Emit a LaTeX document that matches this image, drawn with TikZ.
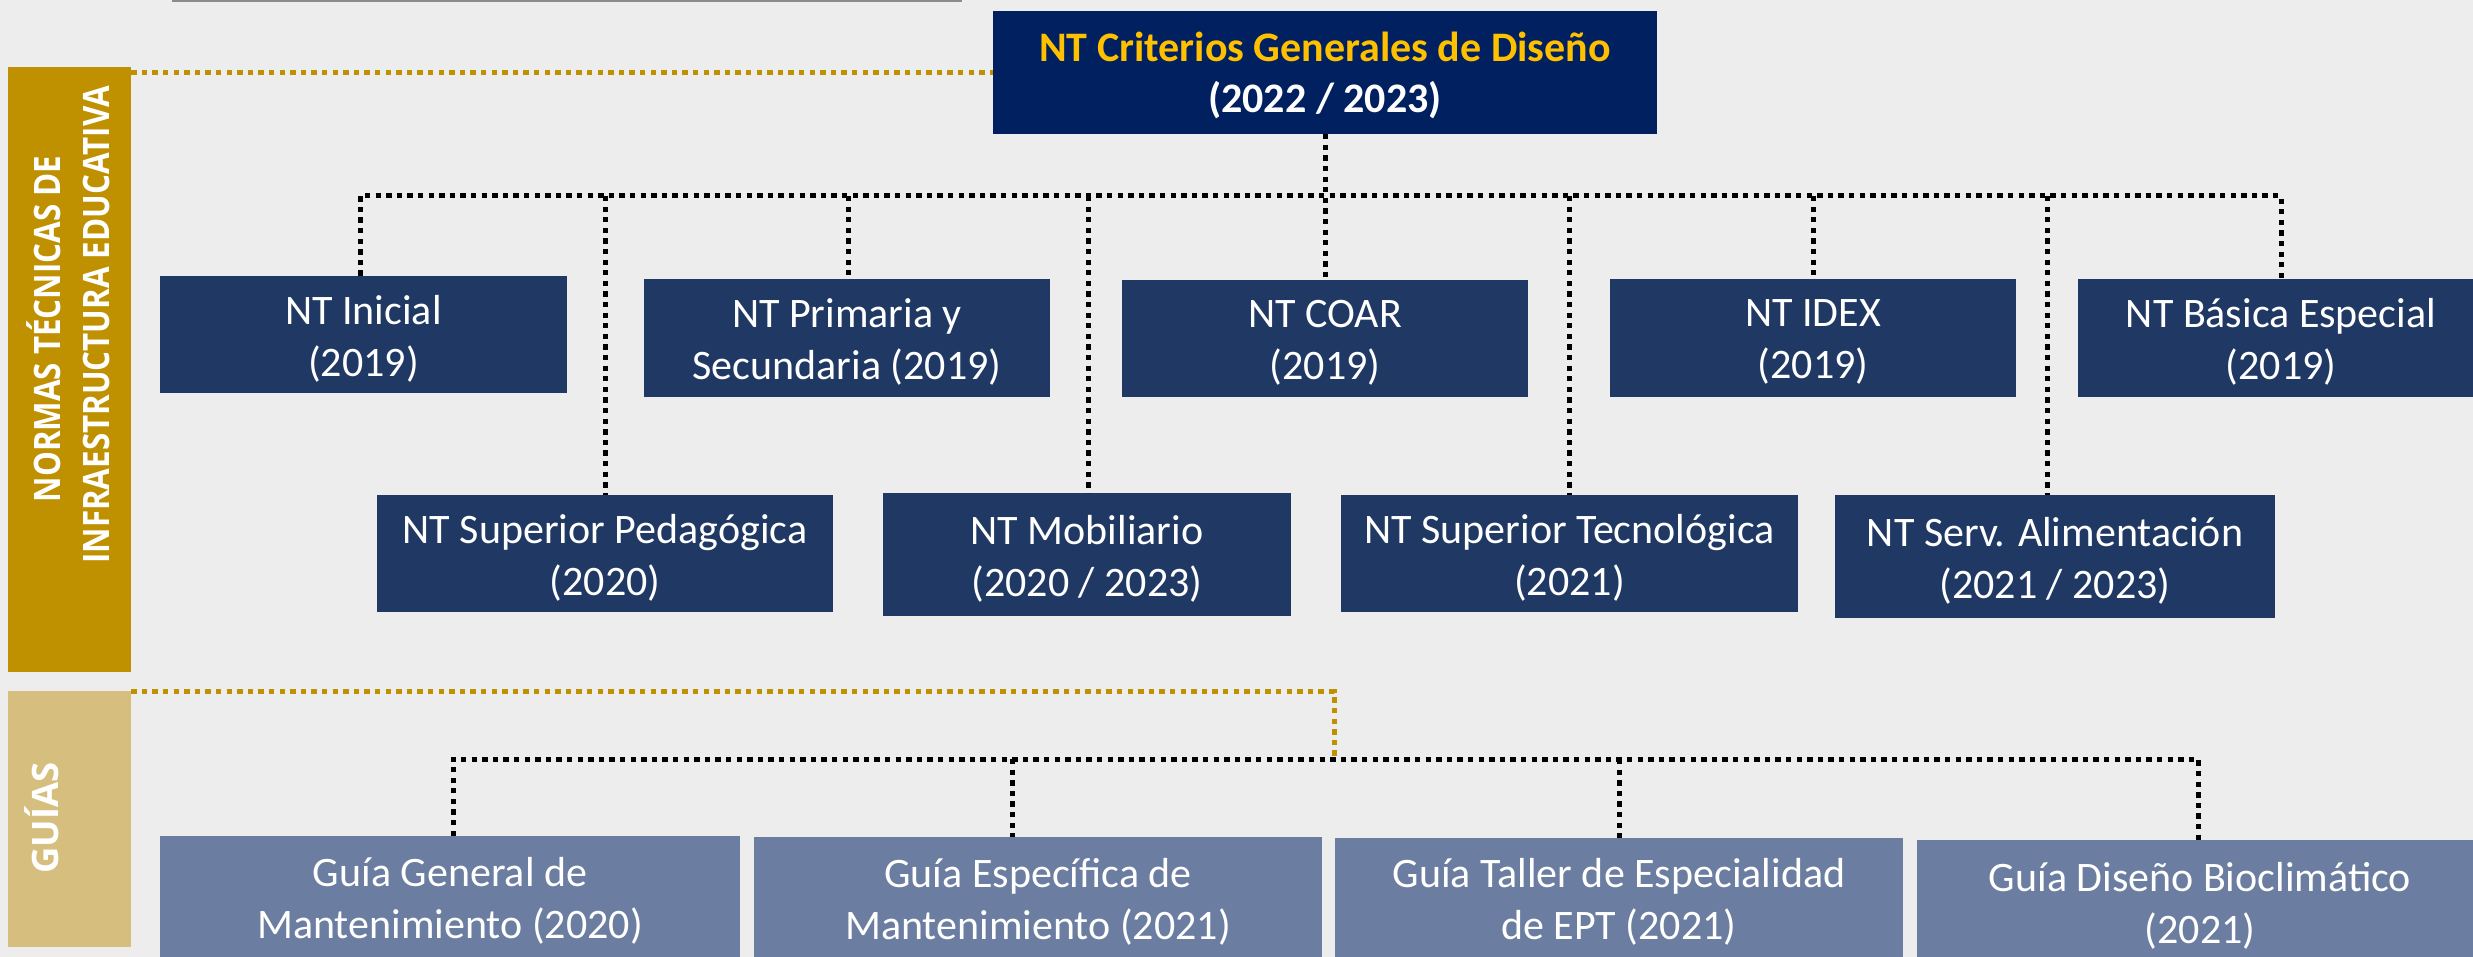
\documentclass[tikz,border=0pt]{standalone}
\usepackage{fontspec}
\setmainfont{Carlito}
\newfontfamily\osb{Open Sans}
\definecolor{bg}{HTML}{EDEDED}
\definecolor{gold}{HTML}{BF9000}
\definecolor{lightgold}{HTML}{D6BF7E}
\definecolor{navy}{HTML}{002060}
\definecolor{ntblue}{HTML}{203864}
\definecolor{guideblue}{HTML}{6B7DA0}
\definecolor{titlegold}{HTML}{FFC000}
\definecolor{topgray}{HTML}{8C8C8C}
\tikzset{
  boxshape/.style={inner sep=0pt},
  ntbox/.style={boxshape, fill=ntblue},
  guidebox/.style={boxshape, fill=guideblue},
  titlebox/.style={boxshape, fill=navy},
  boxtext/.style={inner sep=0pt, align=center, text=white, font=\fontsize{42}{52}\selectfont},
  titletext/.style={boxtext, font=\fontsize{42}{51}\selectfont\bfseries},
  dots/.style={line width=5pt, dash pattern=on 5.3pt off 5.3pt, draw=black},
  golddots/.style={line width=5pt, dash pattern=on 5.3pt off 5.3pt, draw=gold},
  sidetext/.style={rotate=90, anchor=base, inner sep=0pt, text=white, font=\fontsize{36.4}{40}\selectfont\osb\bfseries}
}
% #1 style, #2 name, #3 cx, #4 cy, #5 width, #6 height, #7 text
\newcommand\mybox[7]{%
  \node[#1, minimum width=#5pt, minimum height=#6pt] (#2) at (#3,#4) {};
  \node[boxtext] (#2-t) at ([yshift=-4pt]#2.center) {#7};}
\begin{document}
\begin{tikzpicture}[x=1pt,y=-1pt]
\useasboundingbox (0,0) rectangle (2473,957);
\clip (0,0) rectangle (2473,957);
\fill[bg] (0,0) rectangle (2473,957);
\fill[topgray] (172,0) rectangle (962,2.5);

% side bars
\node[fill=gold, inner sep=0pt, minimum width=123pt, minimum height=605pt] (nbar) at (69.5,369.5) {};
\node[fill=lightgold, inner sep=0pt, minimum width=123pt, minimum height=256pt] (gbar) at (69.5,819) {};
\node[sidetext] (s1) at (60,329) {\scalebox{0.86}[1]{NORMAS TÉCNICAS DE}};
\node[sidetext] (s2) at (109,325) {\scalebox{0.86}[1]{INFRAESTRUCTURA EDUCATIVA}};
\node[sidetext] (s3) at (58,818) {GUÍAS};

% title
\node[titlebox, minimum width=664pt, minimum height=123pt] (title) at (1325,72.5) {};
\node[titletext] (title-t) at ([yshift=-3pt]title.center)
  {{\color{titlegold}NT Criterios Generales de Diseño}\\(2022 / 2023)};

% NT boxes row 1
\mybox{ntbox}{inicial}{363.5}{334.5}{407}{117}{NT Inicial\\(2019)}
\mybox{ntbox}{primaria}{847}{338}{406}{118}{NT Primaria y\\Secundaria (2019)}
\mybox{ntbox}{coar}{1325}{338.5}{406}{117}{NT COAR\\(2019)}
\mybox{ntbox}{idex}{1813}{338}{406}{118}{NT IDEX\\(2019)}
\mybox{ntbox}{basica}{2281}{338}{406}{118}{NT Básica Especial\\(2019)}
% NT boxes row 2
\mybox{ntbox}{supped}{605}{553.5}{456}{117}{NT Superior Pedagógica\\(2020)}
\mybox{ntbox}{mobil}{1087}{554.5}{408}{123}{NT Mobiliario\\(2020 / 2023)}
\mybox{ntbox}{suptec}{1569.5}{553.5}{457}{117}{NT Superior Tecnológica\\(2021)}
\mybox{ntbox}{servalim}{2055}{556.5}{440}{123}{NT Serv. Alimentación\\(2021 / 2023)}

% guide boxes
\mybox{guidebox}{ggen}{450}{897}{580}{122}{Guía General de\\Mantenimiento (2020)}
\mybox{guidebox}{gesp}{1038}{897.5}{568}{121}{Guía Específica de\\Mantenimiento (2021)}
\mybox{guidebox}{gtal}{1619}{898}{568}{120}{Guía Taller de Especialidad\\de EPT (2021)}
\mybox{guidebox}{gbio}{2200}{902}{566}{124}{Guía Diseño Bioclimático\\(2021)}

% NT bus coordinates
\coordinate (b1) at (360,196);
\coordinate (b2) at (605.5,196);
\coordinate (b3) at (848,196);
\coordinate (b4) at (1088,196);
\coordinate (b5) at (1325,196);
\coordinate (b6) at (1569.5,196);
\coordinate (b7) at (1813,196);
\coordinate (b8) at (2047,196);
\coordinate (b9) at (2281,196);

\draw[dots] (inicial.north -| b1) -- (b1) -- (b9) -- (basica.north -| b9);
\draw[dots] (b2) -- (supped.north -| b2);
\draw[dots] (b3) -- (primaria.north -| b3);
\draw[dots] (b4) -- (mobil.north -| b4);
\draw[dots] (title.south) -- (coar.north);
\draw[dots] (b6) -- (suptec.north -| b6);
\draw[dots] (b7) -- (idex.north -| b7);
\draw[dots] (b8) -- (servalim.north -| b8);

% guide bus
\coordinate (g1) at (453,759);
\coordinate (g2) at (1012,759);
\coordinate (gk) at (1334,759);
\coordinate (g3) at (1619,759);
\coordinate (g4) at (2198,759);
\draw[dots] (ggen.north -| g1) -- (g1) -- (g4) -- (gbio.north -| g4);
\draw[dots] (g2) -- (gesp.north -| g2);
\draw[dots] (g3) -- (gtal.north -| g3);

% gold connectors
\draw[golddots] (title.west -| nbar.east) -- (title.west);
\draw[golddots] ([yshift=-1pt]gbar.north east) -- ([yshift=-1pt]gbar.north east -| gk) -- (gk);
\end{tikzpicture}
\end{document}
